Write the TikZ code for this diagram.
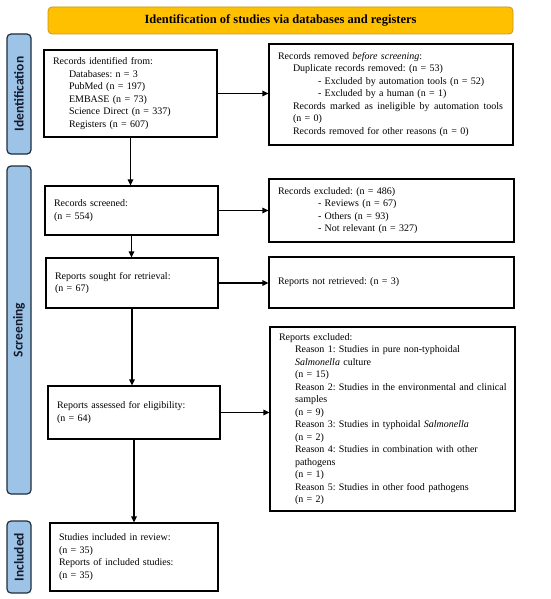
\documentclass[tikz,border=0pt]{standalone}
\usepackage{fontspec}
\setmainfont{Liberation Serif}
\newfontfamily\sidefont{Carlito}
\usetikzlibrary{arrows.meta}
\frenchspacing
\definecolor{sidefill}{HTML}{9DC3E6}
\definecolor{sideline}{HTML}{1F2D3D}
\definecolor{sidetext}{HTML}{141B2E}
\definecolor{titlefill}{HTML}{FFC000}
\definecolor{titleline}{HTML}{C8961E}
\tikzset{
  box/.style={draw=black, line width=1.2pt, fill=white, inner xsep=9pt, inner ysep=2pt,
    align=left, font=\fontsize{10}{12.5}\selectfont},
  sidebar/.style={draw=sideline, line width=1.2pt, fill=sidefill, rounded corners=4pt},
  sidelabel/.style={rotate=90, text=sidetext, font=\sidefont\bfseries\fontsize{13.5}{15}\selectfont},
  titlebar/.style={draw=titleline, line width=0.8pt, fill=titlefill, rounded corners=4pt,
    font=\bfseries\fontsize{12.5}{14}\selectfont},
  flow/.style={line width=1.2pt, -{Triangle[length=6pt,width=5.5pt]}}
}
\begin{document}
\begin{tikzpicture}[x=1pt,y=-1pt]
\useasboundingbox (0,0) rectangle (550,599);
% title
\node[titlebar, minimum width=465pt, minimum height=27pt] (title) at (280.5,20.5)
  {Identification of studies via databases and registers};
% side bars
\node[sidebar, minimum width=24pt, minimum height=120pt] (sid) at (19,94) {};
\node[sidelabel] (sidt) at (sid.center) {Identification};
\node[sidebar, minimum width=24pt, minimum height=328pt] (sscr) at (19,330) {};
\node[sidelabel] (sscrt) at (sscr.center) {Screening};
\node[sidebar, minimum width=24pt, minimum height=72pt] (sinc) at (19,557) {};
\node[sidelabel] (sinct) at (sinc.center) {Included};
% boxes
\node[box, text width=155pt, minimum height=87pt] (b1) at (130.5,93.5) {%
Records identified from:\\
\hspace*{16pt}Databases: n = 3\\
\hspace*{16pt}PubMed (n = 197)\\
\hspace*{16pt}EMBASE (n = 73)\\
\hspace*{16pt}Science Direct (n = 337)\\
\hspace*{16pt}Registers (n = 607)};
\node[box, text width=226pt, minimum height=101pt] (b2) at (391,94.5) {%
Records removed \textit{before screening}:\\
\hspace*{15pt}Duplicate records removed: (n = 53)\\
\hspace*{40pt}- Excluded by automation tools (n = 52)\\
\hspace*{40pt}- Excluded by a human (n = 1)\\
\hspace*{15pt}\makebox[210pt][s]{Records\hfill marked\hfill as\hfill ineligible\hfill by\hfill automation\hfill tools}\\
\hspace*{15pt}(n = 0)\\
\hspace*{15pt}Records removed for other reasons (n = 0)};
\node[box, text width=155pt, minimum height=49pt] (b3) at (131.5,210.5) {%
Records screened:\\
(n = 554)};
\node[box, text width=227pt, minimum height=63pt] (b4) at (391.5,210.5) {%
Records excluded: (n = 486)\\
\hspace*{40pt}- Reviews (n = 67)\\
\hspace*{40pt}- Others (n = 93)\\
\hspace*{40pt}- Not relevant (n = 327)};
\node[box, text width=154pt, minimum height=50pt] (b5) at (132,283) {%
Reports sought for retrieval:\\
(n = 67)};
\node[box, text width=227pt, minimum height=51pt] (b6) at (391.5,282.5) {%
Reports not retrieved: (n = 3)};
\node[box, text width=154pt, minimum height=53pt] (b7) at (134,412.5) {%
Reports assessed for eligibility:\\
(n = 64)};
\node[box, text width=227pt, minimum height=184pt] (b8) at (392.5,419) {%
Reports excluded:\\
\hspace*{16pt}Reason 1: Studies in pure non-typhoidal\\
\hspace*{16pt}\textit{Salmonella} culture\\
\hspace*{16pt}(n = 15)\\
\hspace*{16pt}\mbox{Reason 2: Studies in the environmental and clinical}\\
\hspace*{16pt}samples\\
\hspace*{16pt}(n = 9)\\
\hspace*{16pt}Reason 3: Studies in typhoidal \textit{Salmonella}\\
\hspace*{16pt}(n = 2)\\
\hspace*{16pt}Reason 4: Studies in combination with other\\
\hspace*{16pt}pathogens\\
\hspace*{16pt}(n = 1)\\
\hspace*{16pt}Reason 5: Studies in other food pathogens\\
\hspace*{16pt}(n = 2)};
\node[box, text width=150pt, minimum height=68pt] (b9) at (134,557) {%
Studies included in review:\\
(n = 35)\\
Reports of included studies:\\
(n = 35)};
% connectors
\draw[flow] (b1.east) -- (b1.east -| b2.west);
\draw[flow] (b3.east) -- (b3.east -| b4.west);
\draw[flow] (b5.east) -- (b5.east -| b6.west);
\draw[flow] (b7.east) -- (b7.east -| b8.west);
\draw[flow] (b1.south) -- (b1.south |- b3.north);
\draw[flow] (b3.south) -- (b3.south |- b5.north);
\draw[flow] (b5.south) -- (b5.south |- b7.north);
\draw[flow] (b7.south) -- (b7.south |- b9.north);
\end{tikzpicture}
\end{document}
